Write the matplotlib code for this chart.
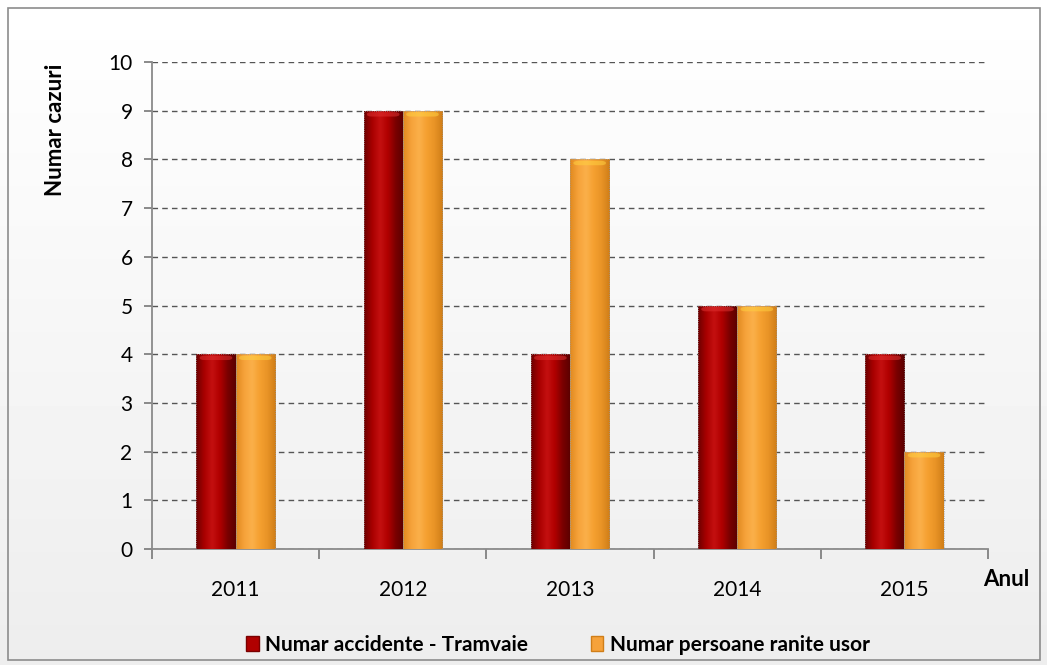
import matplotlib.pyplot as plt
import matplotlib.patches as mpatches
from matplotlib.colors import LinearSegmentedColormap
import numpy as np

# data
years = ['2011', '2012', '2013', '2014', '2015']
accidente = [4, 9, 4, 5, 4]
raniti = [4, 9, 8, 5, 2]

FONT = ['Lato', 'DejaVu Sans']
plt.rcParams['font.family'] = FONT

RED_CM = LinearSegmentedColormap.from_list(
    'red3d', ['#6e0000', '#a80000', '#c41010', '#b00000', '#7a0000', '#5a0000'])
ORANGE_CM = LinearSegmentedColormap.from_list(
    'or3d', ['#e08a20', '#f6a23a', '#fbb04a', '#f5a030', '#e89326', '#d07e18'])


def shaded_bars(ax, xs, heights, width, cmap, top_color):
    grad = np.linspace(0, 1, 64).reshape(1, -1)
    for x, h in zip(xs, heights):
        rect = mpatches.Rectangle((x - width / 2, 0), width, h,
                                  facecolor='none', edgecolor='none', zorder=3)
        ax.add_patch(rect)
        im = ax.imshow(grad, cmap=cmap, aspect='auto', zorder=3,
                       extent=(x - width / 2, x + width / 2, 0, h),
                       interpolation='bicubic')
        im.set_clip_path(rect)
        # rounded highlight on the top edge
        ax.add_patch(mpatches.FancyBboxPatch((x - width / 2 + 0.02, h - 0.12), width - 0.04, 0.09,
                                             boxstyle='round,pad=0,rounding_size=0.03',
                                             mutation_aspect=1.5,
                                             facecolor=top_color, edgecolor='none',
                                             alpha=0.55, zorder=4))
        # thin outline like the reference
        ax.add_patch(mpatches.Rectangle((x - width / 2, 0), width, h,
                                        facecolor='none', edgecolor='#9a9a9a',
                                        linewidth=0.6, linestyle=':', zorder=4))


fig = plt.figure(figsize=(10.47, 6.65), dpi=100)

# light background with gradient and frame
bg = fig.add_axes([0, 0, 1, 1], zorder=-5)
bg.imshow(np.linspace(1.0, 0.93, 100).reshape(-1, 1), cmap='gray', vmin=0, vmax=1,
          aspect='auto', extent=(0, 1, 0, 1))
bg.add_patch(mpatches.Rectangle((8 / 1047, 5 / 665), 1032 / 1047, 652 / 665,
                                facecolor='none', edgecolor='#8c8c8c', linewidth=1.2))
bg.set_xlim(0, 1)
bg.set_ylim(0, 1)
bg.axis('off')

ax = fig.add_axes([152 / 1047, 1 - 549 / 665, 836 / 1047, 487 / 665])
ax.patch.set_alpha(0)

x = np.arange(len(years))
w = 0.235
shaded_bars(ax, x - w / 2, accidente, w, RED_CM, '#e03030')
shaded_bars(ax, x + w / 2, raniti, w, ORANGE_CM, '#ffd040')

ax.set_xlim(-0.5, len(years) - 0.5)
ax.set_ylim(0, 10)
ax.set_yticks(range(0, 11))
ax.set_yticklabels([str(v) for v in range(0, 11)], fontsize=15)
ax.yaxis.grid(True, linestyle=(0, (4, 3)), color='#555555', linewidth=1.0)
ax.set_axisbelow(True)

ax.set_xticks(x)
ax.set_xticklabels(years, fontsize=15)
ax.set_xticks(np.arange(-0.5, len(years)), minor=True)
ax.tick_params(axis='x', which='major', length=0, pad=22)
ax.tick_params(axis='x', which='minor', length=7, color='#777777', width=1.2)
ax.tick_params(axis='y', length=6, color='#777777', width=1.2, direction='out', pad=8)

for side in ['top', 'right']:
    ax.spines[side].set_visible(False)
for side in ['left', 'bottom']:
    ax.spines[side].set_color('#8a8a8a')
    ax.spines[side].set_linewidth(1.3)

fig.text(55 / 1047, 1 - 130 / 665, 'Numar cazuri', rotation=90, ha='center',
         va='center', fontsize=16, fontweight='bold')
fig.text(1006 / 1047, 1 - 580 / 665, 'Anul', ha='center', va='center',
         fontsize=16, fontweight='bold')

handles = [mpatches.Patch(facecolor='#b00000', edgecolor='#7a0000', label='Numar accidente - Tramvaie'),
           mpatches.Patch(facecolor='#f6a23a', edgecolor='#d07e18', label='Numar persoane ranite usor')]
fig.legend(handles=handles, loc='center', bbox_to_anchor=(558 / 1047, 1 - 645 / 665),
           ncol=2, frameon=False, prop={'family': FONT, 'size': 15, 'weight': 'bold'},
           handlelength=0.6, handleheight=0.7, handletextpad=0.3, columnspacing=3.0)

fig.savefig('out.png', dpi=100)
